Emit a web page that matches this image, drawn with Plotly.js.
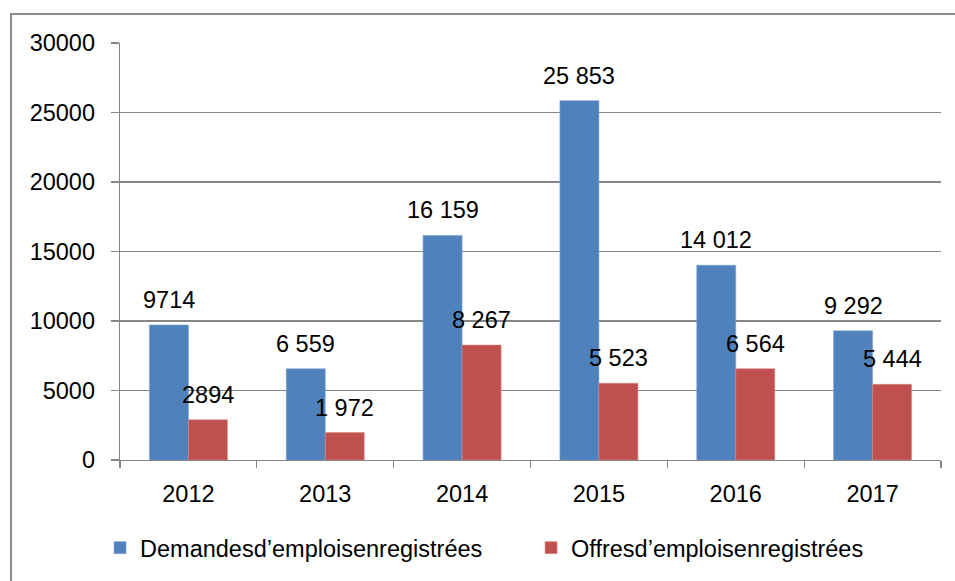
<!DOCTYPE html>
<html>
<head>
<meta charset="utf-8">
<script src="https://cdn.plot.ly/plotly-3.0.1.min.js"></script>
<style>
  html, body { margin: 0; padding: 0; background: #fff; overflow: hidden; }
  #frame { position: absolute; left: 10px; top: 13px; width: 1200px; height: 1200px;
           border: 2px solid #8c8c8c; box-sizing: border-box; pointer-events: none; z-index: 5; }
  #chart { position: absolute; left: 0; top: 0; width: 955px; height: 581px; }
</style>
</head>
<body>
<div id="chart"></div>
<div id="frame"></div>
<script>
const years = ["2012", "2013", "2014", "2015", "2016", "2017"];
const demandes = [9714, 6559, 16159, 25853, 14012, 9292];
const offres = [2894, 1972, 8267, 5523, 6564, 5444];
const demandesLabels = ["9714", "6 559", "16 159", "25 853", "14 012", "9 292"];
const offresLabels = ["2894", "1 972", "8 267", "5 523", "6 564", "5 444"];
const seriesNames = ["Demandesd\u2019emploisenregistrées", "Offresd\u2019emploisenregistrées"];
const yTicks = [0, 5000, 10000, 15000, 20000, 25000, 30000];

const FONT = "Liberation Sans, Arial, sans-serif";
const FS = 23.5;
const blue = "#4F81BD";
const red = "#C0504D";

const traces = [
  { type: "bar", x: years, y: demandes, name: seriesNames[0],
    marker: { color: blue, line: { color: "#7fa3d0", width: 0.6 } }, hoverinfo: "none" },
  { type: "bar", x: years, y: offres, name: seriesNames[1],
    marker: { color: red, line: { color: "#d88a88", width: 0.6 } }, hoverinfo: "none" }
];

const annotations = [];
const halfBar = 19.5;
years.forEach((yr, i) => {
  // category index i on the category axis
  annotations.push({ x: i, y: demandes[i], xref: "x", yref: "y", text: demandesLabels[i],
    showarrow: false, xanchor: "center", yanchor: "bottom", xshift: -halfBar, yshift: 10,
    font: { family: FONT, size: FS, color: "#000" } });
  annotations.push({ x: i, y: offres[i], xref: "x", yref: "y", text: offresLabels[i],
    showarrow: false, xanchor: "center", yanchor: "bottom", xshift: halfBar, yshift: 10,
    font: { family: FONT, size: FS, color: "#000" } });
});

const layout = {
  width: 955, height: 581,
  margin: { l: 120, r: 14, t: 43, b: 121, autoexpand: false },
  paper_bgcolor: "rgba(0,0,0,0)", plot_bgcolor: "#fff",
  font: { family: FONT, size: FS, color: "#000" },
  barmode: "group", bargap: 0.43, bargroupgap: 0,
  showlegend: true,
  legend: { orientation: "h", x: -0.0243, xanchor: "left", y: -0.158, yanchor: "top",
            entrywidth: 386, entrywidthmode: "pixels",
            font: { family: FONT, size: FS, color: "#000" }, traceorder: "normal" },
  xaxis: { type: "category", range: [-0.5, 5.5], tickson: "boundaries", ticks: "outside", ticklen: 7,
           tickcolor: "#868686", tickwidth: 1.3, showline: true, linecolor: "#868686", linewidth: 1.3,
           showgrid: false, tickangle: 0, automargin: false,
           tickfont: { family: FONT, size: FS }, ticklabelstandoff: 12 },
  yaxis: { range: [0, 30000], tickvals: yTicks, ticktext: yTicks.map(String),
           ticks: "outside", ticklen: 8, tickcolor: "#868686", tickwidth: 1.3,
           showline: true, linecolor: "#868686", linewidth: 1.3, automargin: false,
           showgrid: true, gridcolor: "#868686", gridwidth: 1.3, zeroline: false,
           tickfont: { family: FONT, size: FS }, ticklabelstandoff: 11 },
  annotations: annotations
};

Plotly.newPlot("chart", traces, layout, { displayModeBar: false, staticPlot: true });
</script>
</body>
</html>
